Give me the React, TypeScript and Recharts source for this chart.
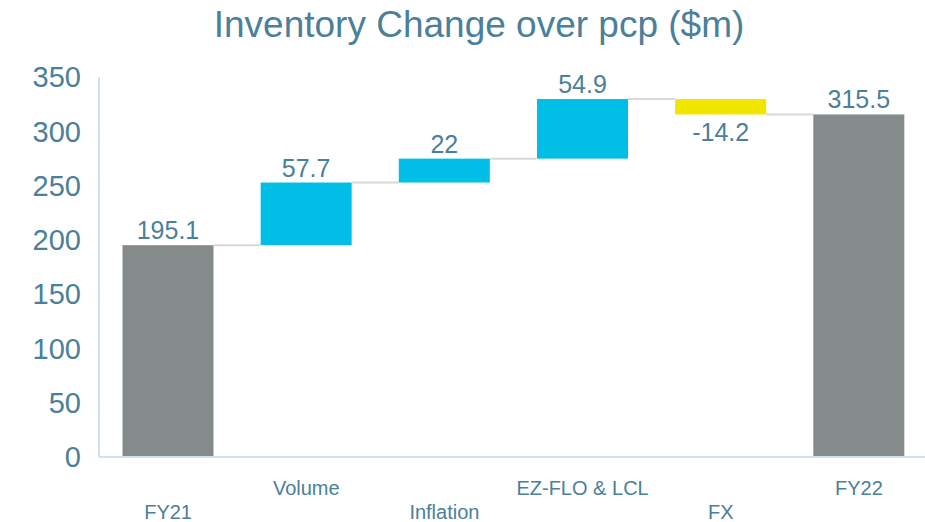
import { BarChart, Bar, XAxis, YAxis, Cell } from 'recharts'

const categories = ['FY21', 'Volume', 'Inflation', 'EZ-FLO & LCL', 'FX', 'FY22']
const changes = [195.1, 57.7, 22, 54.9, -14.2, 315.5]
const isTotal = [true, false, false, false, false, true]
const yTicks = [0, 50, 100, 150, 200, 250, 300, 350]

const GREY = '#858a8a'
const UP = '#00bee6'
const DOWN = '#f2e500'
const TEXT = '#4a8099'
const AXIS = '#d3e2ea'
const LINK = '#d9d9d9'
const GAP_PCT = 0.17

// build the floating-bar rows from the running total
let running = 0
const rows = categories.map((name, i) => {
  const v = changes[i]
  let base: number
  let size: number
  if (isTotal[i]) {
    base = 0
    size = v
    running = v
  } else {
    base = Math.min(running, running + v)
    size = Math.abs(v)
    running += v
  }
  return { name, base, size, change: v, end: running, last: i === categories.length - 1 }
})

function colorFor(i: number) {
  if (isTotal[i]) return GREY
  return changes[i] >= 0 ? UP : DOWN
}

function WaterfallBar(props: any) {
  const { x, y, width, height, fill, payload } = props
  const neg = payload.change < 0
  const gap = (width * 2 * GAP_PCT) / (1 - 2 * GAP_PCT)
  const endY = neg ? y + height : y
  const labelY = neg ? y + height + 8 : y - 6
  return (
    <g>
      {!payload.last && (
        <line x1={x + width} x2={x + width + gap} y1={endY} y2={endY} stroke={LINK} strokeWidth={2} />
      )}
      <rect x={x} y={y} width={width} height={height} fill={fill} />
      <text
        x={x + width / 2}
        y={labelY}
        textAnchor="middle"
        dominantBaseline={neg ? 'hanging' : 'auto'}
        fill={TEXT}
        fontSize={25}
        fontFamily="Liberation Sans, Arial, sans-serif"
      >
        {payload.change}
      </text>
    </g>
  )
}

function StaggerTick(props: any) {
  const { x, y, payload, index } = props
  const low = index % 2 === 0
  return (
    <text
      x={x}
      y={y + (low ? 54 : 30)}
      textAnchor="middle"
      fill={TEXT}
      fontSize={20}
      fontFamily="Liberation Sans, Arial, sans-serif"
    >
      {payload.value}
    </text>
  )
}

export default function App() {
  return (
    <div style={{ position: 'absolute', left: 0, top: 0, width: 925, height: 522, overflow: 'hidden', background: '#fff' }}>
      <div
        style={{
          position: 'absolute',
          left: 0,
          top: 4,
          width: 958,
          textAlign: 'center',
          fontFamily: 'Liberation Sans, Arial, sans-serif',
          fontSize: 37,
          color: TEXT,
        }}
      >
        Inventory Change over pcp ($m)
      </div>
      <BarChart
        width={928}
        height={522}
        data={rows}
        margin={{ top: 77, right: 0, left: 0, bottom: 0 }}
        barCategoryGap={`${GAP_PCT * 100}%`}
      >
        <YAxis
          width={99}
          domain={[0, 350]}
          ticks={yTicks}
          interval={0}
          tickLine={false}
          tickSize={0}
          tickMargin={18}
          axisLine={{ stroke: AXIS, strokeWidth: 2 }}
          tick={{ fill: TEXT, fontSize: 29, fontFamily: 'Liberation Sans, Arial, sans-serif' }}
        />
        <XAxis
          dataKey="name"
          height={65}
          interval={0}
          tickLine={false}
          axisLine={{ stroke: AXIS, strokeWidth: 2 }}
          tick={<StaggerTick />}
        />
        <Bar dataKey="base" stackId="w" fill="transparent" isAnimationActive={false} />
        <Bar dataKey="size" stackId="w" shape={<WaterfallBar />} isAnimationActive={false}>
          {rows.map((r, i) => (
            <Cell key={r.name} fill={colorFor(i)} />
          ))}
        </Bar>
      </BarChart>
    </div>
  )
}
